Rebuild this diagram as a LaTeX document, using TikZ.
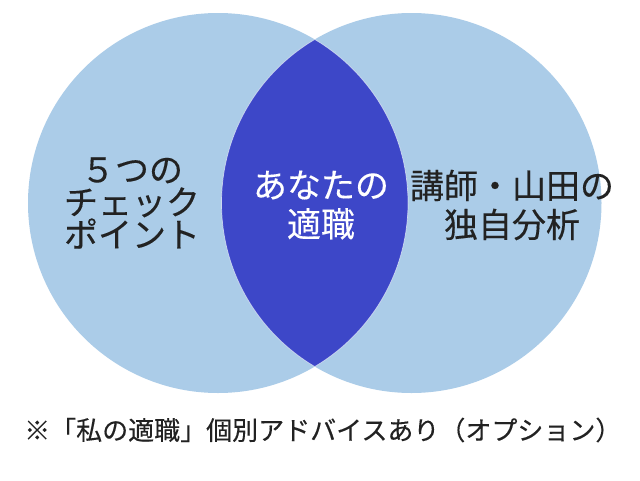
\documentclass[tikz,border=0pt]{standalone}
\usepackage{fontspec}
\setmainfont{Noto Sans CJK JP}[FakeBold=0.25]
\definecolor{paleblue}{HTML}{ABCCE8}
\definecolor{deepblue}{HTML}{3D47C8}
\definecolor{inkdark}{HTML}{222222}
\tikzset{
  x=1pt,y=-1pt,
  circlefill/.style={fill=paleblue,draw=none},
  biglabel/.style={align=center,font=\fontsize{34}{39}\selectfont,text=inkdark,inner sep=0pt},
  tightlabel/.style={align=center,font=\fontsize{34}{32.5}\selectfont,text=inkdark,inner sep=0pt},
  lenslabel/.style={biglabel,text=white},
  footlabel/.style={font=\fontsize{26}{30}\selectfont,text=inkdark,inner sep=0pt}
}
\begin{document}
\begin{tikzpicture}
\useasboundingbox (0,0) rectangle (640,480);
\fill[white] (0,0) rectangle (640,480);
\fill[circlefill] (218,203) circle [radius=190];
\fill[circlefill] (411.5,203) circle [radius=190];
\begin{scope}
  \clip (218,203) circle [radius=190];
  \fill[deepblue] (411.5,203) circle [radius=190];
  \draw[white,opacity=.6,line width=.7pt] (411.5,203) circle [radius=190];
\end{scope}
\begin{scope}
  \clip (411.5,203) circle [radius=190];
  \draw[white,opacity=.6,line width=.7pt] (218,203) circle [radius=190];
\end{scope}
\node[tightlabel] (a) at (132,203) {５つの\\チェック\\ポイント};
\node[lenslabel] (b) at (321,205) {あなたの\\適職};
\node[biglabel] (c) at (512,205) {講師・山田の\\独自分析};
\node[footlabel,anchor=west] (d) at (24,430) {※「私の適職」個別アドバイスあり（オプション）};
\end{tikzpicture}
\end{document}
